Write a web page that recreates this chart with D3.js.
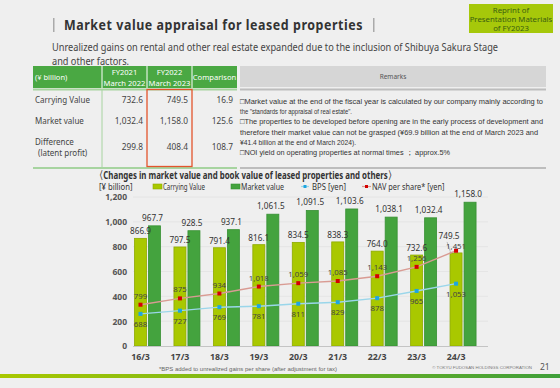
<!DOCTYPE html>
<html>
<head>
<meta charset="utf-8">
<script src="https://cdn.jsdelivr.net/npm/d3@7"></script>
<style>
  body { margin: 0; background: #efefef; }
  svg { display: block; font-family: "Noto Sans", "Open Sans", sans-serif; }
</style>
</head>
<body>
<div id="chart"></div>
<script>
// chart data
var years = ["16/3", "17/3", "18/3", "19/3", "20/3", "21/3", "22/3", "23/3", "24/3"];
var carrying = [866.9, 797.5, 791.4, 816.1, 834.5, 838.3, 764.0, 732.6, 749.5];
var market = [967.7, 928.5, 937.1, 1061.5, 1091.5, 1103.6, 1038.1, 1032.4, 1158.0];
var bps = [688, 727, 769, 781, 811, 829, 878, 965, 1053];
var nav = [799, 875, 934, 1018, 1059, 1085, 1143, 1256, 1451];
var yTicks = [0, 200, 400, 600, 800, 1000, 1200];

// table data
var tableCols = ["FY2021|March 2022", "FY2022|March 2023", "Comparison"];
var tableRows = ["Carrying Value", "Market value", "Difference|(latent profit)"];
var tableFY2021 = [732.6, 1032.4, 299.8];
var tableFY2022 = [749.5, 1158.0, 408.4];
var tableDiff = [16.9, 125.6, 108.7];
var remarks = [
  "\u25a1Market value at the end of the fiscal year is calculated by our company mainly according to",
  "the \"standards for appraisal of real estate\".",
  "\u25a1The properties to be developed before opening are in the early process of development and",
  "therefore their market value can not be grasped (\u00a569.9 billion at the end of March 2023 and",
  "\u00a541.4 billion at the end of March 2024).",
  "\u25a1NOI yield on operating properties at normal times \uff1b approx.5%"
];

var W = 560, H = 388;
var svg = d3.select("#chart").append("svg")
    .attr("width", W).attr("height", H);

svg.append("rect").attr("width", W).attr("height", H).attr("fill", "#efefef");

// ---- header ----
svg.append("rect").attr("x", 53).attr("y", 18).attr("width", 1.5).attr("height", 14).attr("fill", "#aaa");
svg.append("rect").attr("x", 373).attr("y", 18).attr("width", 1.5).attr("height", 14).attr("fill", "#aaa");
svg.append("text").attr("x", 64).attr("y", 30)
    .attr("font-size", 13.5).attr("font-weight", "bold").attr("fill", "#333")
    .attr("letter-spacing", 0.6)
    .attr("textLength", 299).attr("lengthAdjust", "spacingAndGlyphs")
    .text("Market value appraisal for leased properties");

svg.append("rect").attr("x", 469).attr("y", 4).attr("width", 84).attr("height", 29).attr("fill", "#a6c80a");
["Reprint of", "Presentation Materials", "of FY2023"].forEach(function(t, i){
    svg.append("text").attr("x", 511).attr("y", 13 + i * 9)
        .attr("text-anchor", "middle").attr("font-size", 7.8).attr("fill", "#3a5e10")
        .text(t);
});

svg.append("text").attr("x", 52).attr("y", 51)
    .attr("font-size", 10).attr("fill", "#444")
    .attr("textLength", 446).attr("lengthAdjust", "spacingAndGlyphs")
    .text("Unrealized gains on rental and other real estate expanded due to the inclusion of Shibuya Sakura Stage");
svg.append("text").attr("x", 52).attr("y", 65)
    .attr("font-size", 10).attr("fill", "#444")
    .attr("textLength", 77).attr("lengthAdjust", "spacingAndGlyphs")
    .text("and other factors.");

// ---- table ----
var colEdges = [33, 102, 147, 192, 237];
svg.append("rect").attr("x", 33).attr("y", 66).attr("width", 204).attr("height", 22).attr("fill", "#4aa843");
colEdges.slice(1, 4).forEach(function(x){
    svg.append("line").attr("x1", x).attr("x2", x).attr("y1", 66).attr("y2", 88)
        .attr("stroke", "#fff").attr("stroke-width", 1);
});
svg.append("text").attr("x", 35).attr("y", 80).attr("font-size", 7.5).attr("fill", "#fff").text("(\u00a5 billion)");
tableCols.forEach(function(c, i){
    var cx = (colEdges[i + 1] + colEdges[i + 2]) / 2;
    var parts = c.split("|");
    parts.forEach(function(p, j){
        svg.append("text").attr("x", cx)
            .attr("y", parts.length == 1 ? 80 : 75 + j * 10.5)
            .attr("text-anchor", "middle").attr("font-size", 7.6).attr("fill", "#fff")
            .text(p);
    });
});
svg.append("rect").attr("x", 240).attr("y", 66).attr("width", 306).attr("height", 21).attr("fill", "#d6d6d6");
svg.append("text").attr("x", 393).attr("y", 79).attr("text-anchor", "middle")
    .attr("font-size", 6.5).attr("fill", "#555").text("Remarks");

svg.append("line").attr("x1", 33).attr("x2", 237).attr("y1", 89.5).attr("y2", 89.5).attr("stroke", "#a7d4a0").attr("stroke-width", 2);
svg.append("line").attr("x1", 33).attr("x2", 237).attr("y1", 168).attr("y2", 168).attr("stroke", "#a7d4a0").attr("stroke-width", 2);
svg.append("line").attr("x1", 240).attr("x2", 546).attr("y1", 89.5).attr("y2", 89.5).attr("stroke", "#bdbdbd").attr("stroke-width", 2);
svg.append("line").attr("x1", 240).attr("x2", 546).attr("y1", 168).attr("y2", 168).attr("stroke", "#bdbdbd").attr("stroke-width", 2);
svg.append("line").attr("x1", 102).attr("x2", 102).attr("y1", 90).attr("y2", 167).attr("stroke", "#a7d4a0").attr("stroke-width", 1);

var rowY = [103, 124, 150];
tableRows.forEach(function(r, i){
    var parts = r.split("|");
    parts.forEach(function(p, j){
        svg.append("text").attr("x", parts.length == 1 ? 35 : 35 + j * 3)
            .attr("y", parts.length == 1 ? rowY[i] : 145 + j * 11)
            .attr("font-size", 8).attr("fill", "#444").text(p);
    });
    [tableFY2021, tableFY2022, tableDiff].forEach(function(arr, k){
        svg.append("text").attr("x", colEdges[k + 2] - 4).attr("y", rowY[i])
            .attr("text-anchor", "end").attr("font-size", 8.3).attr("fill", "#444")
            .text(d3.format(",.1f")(arr[i]));
    });
});
svg.append("rect").attr("x", 147).attr("y", 89.5).attr("width", 45).attr("height", 77)
    .attr("fill", "none").attr("stroke", "#e2542c").attr("stroke-width", 1.3);

var remarkW = [303, 112, 303, 298, 116, 210];
remarks.forEach(function(t, i){
    svg.append("text").attr("x", 240).attr("y", 104 + i * 10.2)
        .attr("font-family", "'Liberation Sans', Arial, sans-serif")
        .attr("font-size", 7.8).attr("fill", "#333")
        .attr("textLength", remarkW[i]).attr("lengthAdjust", "spacingAndGlyphs")
        .text(t);
});

// ---- chart ----
svg.append("text").attr("x", 95).attr("y", 179)
    .attr("font-size", 10.5).attr("font-weight", "bold").attr("fill", "#333")
    .attr("textLength", 301).attr("lengthAdjust", "spacingAndGlyphs")
    .text("\u3008Changes in market value and book value of leased properties and others\u3009");

var x = d3.scaleBand().domain(years).range([133, 488]).padding(0);
var y = d3.scaleLinear().domain([0, 1200]).range([346, 197]);
var y2 = d3.scaleLinear().domain([300, 2100]).range([346, 197]);

var bw = 12;
var cxC = function(i){ return x(years[i]) + 1.5 + bw / 2; };
var cxM = function(i){ return x(years[i]) + 15.5 + bw / 2; };

// gridlines
svg.append("g").selectAll("line").data(yTicks.slice(1)).enter().append("line")
    .attr("x1", 133).attr("x2", 488)
    .attr("y1", function(d){ return y(d); }).attr("y2", function(d){ return y(d); })
    .attr("stroke", "#e2e2e2").attr("stroke-width", 0.8);

// y axis labels
var yAxis = d3.axisLeft(y).tickValues(yTicks).tickSize(0).tickPadding(0).tickFormat(d3.format(","));
var gY = svg.append("g").attr("transform", "translate(127,0)").call(yAxis);
gY.select(".domain").remove();
gY.selectAll("text").attr("font-size", 8.5).attr("font-weight", "bold").attr("fill", "#555")
    .attr("font-family", "'Noto Sans', sans-serif").attr("dy", "0.35em");

// bars
svg.append("g").selectAll("rect").data(carrying).enter().append("rect")
    .attr("x", function(d, i){ return x(years[i]) + 1.5; })
    .attr("y", function(d){ return y(d); })
    .attr("width", bw).attr("height", function(d){ return y(0) - y(d); })
    .attr("fill", "#a9c800").attr("stroke", "#8eaa00").attr("stroke-width", 0.8);
svg.append("g").selectAll("rect").data(market).enter().append("rect")
    .attr("x", function(d, i){ return x(years[i]) + 15.5; })
    .attr("y", function(d){ return y(d); })
    .attr("width", bw).attr("height", function(d){ return y(0) - y(d); })
    .attr("fill", "#44a33e").attr("stroke", "#379033").attr("stroke-width", 0.8);

// baseline
svg.append("line").attr("x1", 133).attr("x2", 488).attr("y1", y(0) + 0.5).attr("y2", y(0) + 0.5)
    .attr("stroke", "#c4c4c4").attr("stroke-width", 1);

// x labels
var xAxis = d3.axisBottom(x).tickSize(0).tickPadding(0);
var gX = svg.append("g").attr("transform", "translate(0," + 360 + ")").call(xAxis);
gX.select(".domain").remove();
gX.selectAll(".tick").attr("transform", function(d, i){ return "translate(" + cxC(i) + ",0)"; });
gX.selectAll("text").attr("font-size", 8.8).attr("font-weight", "bold").attr("fill", "#444")
    .attr("font-family", "'Noto Sans', sans-serif").attr("dy", 0);

// bar labels
var fmt1 = d3.format(",.1f");
svg.append("g").selectAll("text").data(carrying).enter().append("text")
    .attr("x", function(d, i){ return i == 8 ? cxC(i) - 7 : cxC(i); })
    .attr("y", function(d, i){ return i == 8 ? y(d) - 14 : y(d) - 4; })
    .attr("text-anchor", "middle").attr("font-size", 8.2).attr("fill", "#333")
    .text(function(d){ return fmt1(d); });
svg.append("g").selectAll("text").data(market).enter().append("text")
    .attr("x", function(d, i){ return cxM(i) - 2; })
    .attr("y", function(d){ return y(d) - 5; })
    .attr("text-anchor", "middle").attr("font-size", 8.2).attr("fill", "#333")
    .text(function(d){ return fmt1(d); });
// leader for the last carrying label
svg.append("line")
    .attr("x1", cxC(8) - 9).attr("y1", y(carrying[8]) - 11)
    .attr("x2", cxC(8) - 5).attr("y2", y(carrying[8]) + 1)
    .attr("stroke", "#999").attr("stroke-width", 0.6);

// lines
var line = d3.line().x(function(d, i){ return cxC(i); }).y(function(d){ return y2(d); });
svg.append("path").datum(bps).attr("d", line).attr("fill", "none")
    .attr("stroke", "#9ad6ea").attr("stroke-width", 1.4);
svg.append("path").datum(nav).attr("d", line).attr("fill", "none")
    .attr("stroke", "#d99b93").attr("stroke-width", 1.4);
svg.append("g").selectAll("rect").data(bps).enter().append("rect")
    .attr("x", function(d, i){ return cxC(i) - 2; }).attr("y", function(d){ return y2(d) - 2; })
    .attr("width", 4).attr("height", 4).attr("fill", "#1ea6e0");
svg.append("g").selectAll("rect").data(nav).enter().append("rect")
    .attr("x", function(d, i){ return cxC(i) - 2; }).attr("y", function(d){ return y2(d) - 2; })
    .attr("width", 4).attr("height", 4).attr("fill", "#d40000");

var fmt0 = d3.format(",");
svg.append("g").selectAll("text").data(nav).enter().append("text")
    .attr("x", function(d, i){ return cxC(i); })
    .attr("y", function(d, i){ return y2(d) - (i == 8 ? 2 : 6); })
    .attr("text-anchor", "middle").attr("font-size", 7.8).attr("fill", "#444")
    .text(function(d){ return fmt0(d); });
svg.append("g").selectAll("text").data(bps).enter().append("text")
    .attr("x", function(d, i){ return cxC(i); })
    .attr("y", function(d){ return y2(d) + 13; })
    .attr("text-anchor", "middle").attr("font-size", 7.8).attr("fill", "#444")
    .text(function(d){ return fmt0(d); });

// legend
function legendText(tx, ty, label, len){
    svg.append("text").attr("x", tx).attr("y", ty).attr("font-size", 8.2)
        .attr("fill", "#333").attr("textLength", len).attr("lengthAdjust", "spacingAndGlyphs")
        .text(label);
}
legendText(99, 189.5, "[\u00a5 billion]", 33.5);
svg.append("rect").attr("x", 153).attr("y", 184).attr("width", 9).attr("height", 5)
    .attr("fill", "#a9c800").attr("stroke", "#8eaa00").attr("stroke-width", 0.6);
legendText(163, 189.5, "Carrying Value", 42);
svg.append("rect").attr("x", 231).attr("y", 184).attr("width", 9).attr("height", 5)
    .attr("fill", "#44a33e").attr("stroke", "#379033").attr("stroke-width", 0.6);
legendText(241, 189.5, "Market value", 43);
svg.append("line").attr("x1", 301).attr("x2", 309).attr("y1", 186.5).attr("y2", 186.5).attr("stroke", "#9ad6ea").attr("stroke-width", 1.2);
svg.append("rect").attr("x", 303.5).attr("y", 185).attr("width", 3).attr("height", 3).attr("fill", "#1ea6e0");
legendText(312, 189.5, "BPS [yen]", 34);
svg.append("line").attr("x1", 362).attr("x2", 371).attr("y1", 186.5).attr("y2", 186.5).attr("stroke", "#d99b93").attr("stroke-width", 1.2);
svg.append("rect").attr("x", 365).attr("y", 185).attr("width", 3).attr("height", 3).attr("fill", "#d40000");
legendText(372, 189.5, "NAV per share* [yen]", 72.5);

// footer
svg.append("text").attr("x", 159).attr("y", 371).attr("font-size", 6.2).attr("fill", "#666")
    .attr("font-family", "'Liberation Sans', Arial, sans-serif")
    .attr("textLength", 178).attr("lengthAdjust", "spacingAndGlyphs")
    .text("*BPS added to unrealized gains per share (after adjustment for tax)");
svg.append("text").attr("x", 532).attr("y", 368.5).attr("font-size", 4.4).attr("fill", "#777")
    .attr("text-anchor", "end")
    .attr("font-family", "'Liberation Sans', Arial, sans-serif")
    .text("\u00a9 TOKYU FUDOSAN HOLDINGS CORPORATION");
svg.append("text").attr("x", 540).attr("y", 370).attr("font-size", 8.5).attr("fill", "#555").text("21");

var grad = svg.append("defs").append("linearGradient").attr("id", "foot")
    .attr("x1", "0%").attr("x2", "100%");
grad.append("stop").attr("offset", "0%").attr("stop-color", "#a9c800");
grad.append("stop").attr("offset", "100%").attr("stop-color", "#3f9f3a");
svg.append("rect").attr("x", 0).attr("y", 374).attr("width", W).attr("height", 4).attr("fill", "url(#foot)");
</script>
</body>
</html>
